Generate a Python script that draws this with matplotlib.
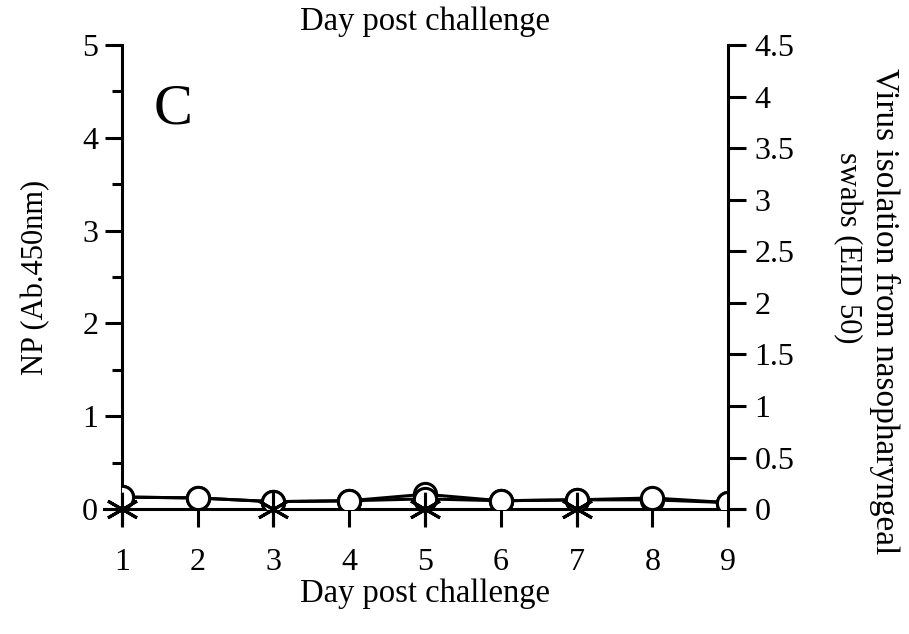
import matplotlib
matplotlib.use("Agg")
import matplotlib.pyplot as plt

plt.rcParams['font.family'] = ['Liberation Serif', 'DejaVu Serif']

# NP ELISA readings (left axis), two groups
days = [1, 2, 3, 4, 5, 6, 7, 8, 9]
np_group_a = [0.13, 0.12, 0.08, 0.09, 0.11, 0.09, 0.10, 0.12, 0.07]
np_group_b = [0.13, 0.12, 0.08, 0.09, 0.16, 0.09, 0.10, 0.10, 0.07]

# virus isolation from swabs (right axis), sampled on odd days
virus_days = [1, 3, 5, 7]
virus_titre = [0, 0, 0, 0]

left_ticks = [0, 1, 2, 3, 4, 5]
left_minor = [0.5, 1.5, 2.5, 3.5, 4.5]
right_ticks = [0, 0.5, 1, 1.5, 2, 2.5, 3, 3.5, 4, 4.5]
right_labels = ['0', '0.5', '1', '1.5', '2', '2.5', '3', '3.5', '4', '4.5']

fig = plt.figure(figsize=(9.09, 6.34), dpi=100)
ax = fig.add_axes([0.134, 0.197, 0.667, 0.732])

lw = 2.2
ax.plot(days, np_group_b, color='black', lw=lw, marker='o', ms=16,
        mfc='white', mec='black', mew=2.2, zorder=3)
ax.plot(days, np_group_a, color='black', lw=lw, marker='o', ms=16,
        mfc='white', mec='black', mew=2.2, zorder=4)

ax.set_xlim(1, 9)
ax.set_ylim(0, 5)
ax.set_xticks(days)
ax.set_yticks(left_ticks)
ax.set_yticks(left_minor, minor=True)
for s in ['top', 'right', 'bottom']:
    ax.spines[s].set_visible(False)
ax.spines['left'].set_linewidth(lw)
# baseline runs a little past both vertical axes
ax.axhline(0, xmin=-0.03, xmax=1.025, color='black', lw=lw, clip_on=False, zorder=2)

ax.tick_params(axis='x', direction='out', length=13, width=lw, labelsize=23, pad=15)
ax.tick_params(axis='y', which='major', direction='out', length=12, width=lw,
               labelsize=23, pad=5)
ax.tick_params(axis='y', which='minor', direction='out', length=7, width=lw)

ax.set_xlabel('Day post challenge', fontsize=23.5, labelpad=1)
ax.set_ylabel('NP (Ab.450nm)', fontsize=22, labelpad=23)
fig.text(0.467, 0.965, 'Day post challenge', fontsize=23.5, ha='center', va='center')
ax.text(0.052, 0.86, 'C', transform=ax.transAxes, fontsize=42, ha='left', va='center')

ax2 = ax.twinx()
ax2.plot(virus_days, virus_titre, linestyle='none', marker=(6, 2, 0), ms=24,
         mec='black', mew=2.2, clip_on=False, zorder=5)
ax2.set_ylim(0, 4.5)
ax2.set_yticks(right_ticks)
ax2.set_yticklabels(right_labels)
for s in ['top', 'left', 'bottom']:
    ax2.spines[s].set_visible(False)
ax2.spines['right'].set_linewidth(lw)
ax2.tick_params(axis='y', direction='out', length=13, width=lw, labelsize=23, pad=6)

fig.text(0.973, 0.51, 'Virus isolation from nasopharyngeal', rotation=-90,
         fontsize=24, ha='center', va='center')
fig.text(0.932, 0.61, 'swabs (EID 50)', rotation=-90,
         fontsize=22, ha='center', va='center')

fig.savefig('out.png', dpi=100)
